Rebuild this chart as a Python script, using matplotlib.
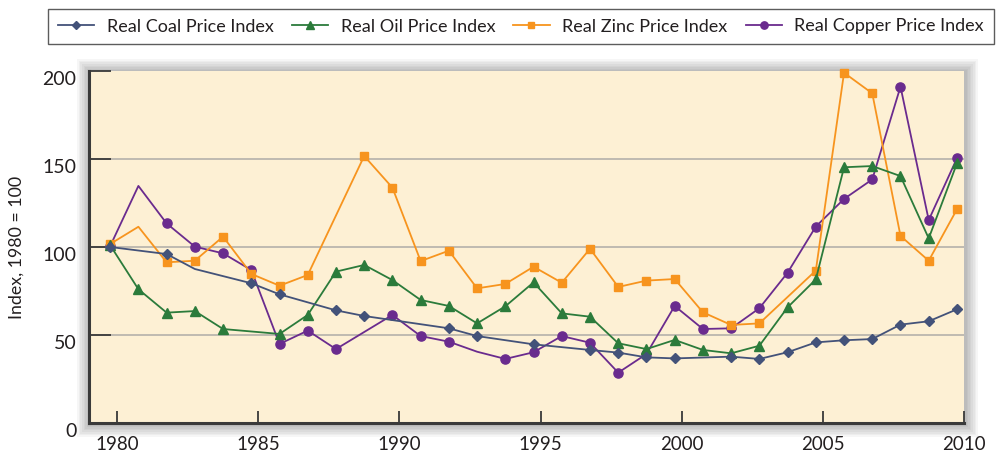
import matplotlib
matplotlib.use("Agg")
import matplotlib.pyplot as plt
import matplotlib.transforms as mtransforms
from matplotlib.lines import Line2D
from matplotlib.patches import Rectangle

# ---------------- data ----------------
coal_years = [1980, 1982, 1983, 1985, 1986, 1988, 1989, 1992, 1993, 1995, 1997, 1998, 1999,
              2000, 2002, 2003, 2004, 2005, 2006, 2007, 2008, 2009, 2010]
coal_values = [100, 96, 87.5, 79.4, 73.1, 64, 60.8, 53.8, 49.4, 44.7, 41.5, 40, 37.3,
               36.7, 37.7, 36.4, 40.2, 45.8, 47, 47.7, 55.9, 57.8, 64.6]
coal_unmarked = [1983]

oil_years = [1980, 1981, 1982, 1983, 1984, 1986, 1987, 1988, 1989, 1990, 1991, 1992, 1993,
             1994, 1995, 1996, 1997, 1998, 1999, 2000, 2001, 2002, 2003, 2004, 2005, 2006,
             2007, 2008, 2009, 2010]
oil_values = [101, 76, 62.7, 63.6, 53.4, 50.6, 61.4, 86, 89.8, 81.2, 69.9, 66.5, 56.6,
              66.3, 79.9, 62.3, 60.4, 45.3, 42, 47.2, 41.5, 39.6, 43.9, 65.7, 81.6, 145.3,
              146, 140.3, 104.9, 147.5]
oil_unmarked = []

zinc_years = [1980, 1981, 1982, 1983, 1984, 1985, 1986, 1987, 1989, 1990, 1991, 1992, 1993,
              1994, 1995, 1996, 1997, 1998, 1999, 2000, 2001, 2002, 2003, 2005, 2006, 2007,
              2008, 2009, 2010]
zinc_values = [101.7, 111.5, 91.3, 92.2, 105.9, 84.7, 78, 84.1, 151.7, 133.7, 92, 97.9, 76.5,
               79, 88.8, 79.7, 99, 77.3, 80.9, 81.8, 62.9, 55.7, 56.6, 86.6, 199, 187.3,
               106.3, 92.2, 121.4]
zinc_unmarked = [1981]

copper_years = [1980, 1981, 1982, 1983, 1984, 1985, 1986, 1987, 1988, 1990, 1991, 1992, 1993,
                1994, 1995, 1996, 1997, 1998, 1999, 2000, 2001, 2002, 2003, 2004, 2005, 2006,
                2007, 2008, 2009, 2010]
copper_values = [100.5, 134.7, 113.4, 100.2, 96.4, 86.9, 44.9, 52.5, 42, 61.4, 49.4, 46.2, 40.5,
                 36.4, 40.2, 49.4, 45.6, 28.6, 39.2, 66.5, 53.4, 53.8, 65.2, 85.4, 111.6, 127.3,
                 138.4, 191.1, 115.3, 150.4]
copper_unmarked = [1981, 1993]

series_labels = ["Real Coal Price Index", "Real Oil Price Index",
                 "Real Zinc Price Index", "Real Copper Price Index"]
x_tick_labels = ["1980", "1985", "1990", "1995", "2000", "2005", "2010"]
y_ticks = [0, 50, 100, 150, 200]
y_label = "Index, 1980 = 100"

# ---------------- style ----------------
FONT = "Lato"
plt.rcParams["font.family"] = [FONT, "DejaVu Sans"]

W, H = 1004, 458
fig = plt.figure(figsize=(W / 100, H / 100), dpi=100)
fig.patch.set_facecolor("white")

ax_l, ax_r, ax_t, ax_b = 89, 964, 71, 423
rect = [ax_l / W, 1 - ax_b / H, (ax_r - ax_l) / W, (ax_b - ax_t) / H]

# soft drop shadow around the plot area
for i in range(1, 9):
    pad = i * 1.6
    fig.patches.append(Rectangle(((ax_l - pad + 1) / W, 1 - (ax_b + pad + 1) / H),
                                 (ax_r - ax_l + 2 * pad) / W, (ax_b - ax_t + 2 * pad) / H,
                                 transform=fig.transFigure, facecolor="black",
                                 edgecolor="none", alpha=0.035, zorder=0))

ax = fig.add_axes(rect)
ax.set_facecolor("#fdf0d4")
ax.set_zorder(2)

styles = [
    dict(years=coal_years, vals=coal_values, un=coal_unmarked, color="#435279", marker="D", ms=5.2),
    dict(years=oil_years, vals=oil_values, un=oil_unmarked, color="#2b7b3b", marker="^", ms=7.0),
    dict(years=zinc_years, vals=zinc_values, un=zinc_unmarked, color="#f7941e", marker="s", ms=6.2),
    dict(years=copper_years, vals=copper_values, un=copper_unmarked, color="#6a2b8e", marker="o", ms=6.6),
]
order = [3, 2, 1, 0]  # draw copper first, coal on top
handles = [None] * 4
for k in order:
    s = styles[k]
    mk = [i for i, y in enumerate(s["years"]) if y not in s["un"]]
    ln, = ax.plot(s["years"], s["vals"], color=s["color"], lw=1.3, marker=s["marker"],
                  ms=s["ms"], markevery=mk, mec=s["color"], mfc=s["color"], zorder=3 + (3 - k),
                  clip_on=False)
    handles[k] = Line2D([], [], color=s["color"], lw=1.3, marker=s["marker"], ms=s["ms"] * 0.8,
                        mec=s["color"], mfc=s["color"])

ax.set_xlim(1979.25, 2010.25)
ax.set_ylim(0, 200)

ax.set_xticks([int(t) + 0.25 for t in x_tick_labels])
ax.set_xticklabels(x_tick_labels)
ax.set_yticks(y_ticks)
ax.set_yticklabels([str(v) for v in y_ticks])

for v in y_ticks[1:-1]:
    ax.axhline(v, color="#b4b1aa", lw=1.2, zorder=1)

for sp in ["top", "right"]:
    ax.spines[sp].set_visible(False)
for sp in ["left", "bottom"]:
    ax.spines[sp].set_color("#3a3a3a")
    ax.spines[sp].set_linewidth(2.2)
    ax.spines[sp].set_zorder(10)

ax.tick_params(axis="y", direction="in", length=16, width=1.3, color="#3a3a3a",
               labelsize=14, labelcolor="#231f20", pad=9)
ax.tick_params(axis="x", direction="in", length=9, width=1.3, color="#3a3a3a",
               labelsize=13.5, labelcolor="#231f20", pad=9)

offset = mtransforms.ScaledTranslation(0, -7 / 100, fig.dpi_scale_trans)
for lab in ax.get_yticklabels():
    lab.set_transform(lab.get_transform() + offset)

ax.set_ylabel(y_label, fontsize=12.8, color="#231f20")
ax.yaxis.set_label_coords((25 - ax_l) / (ax_r - ax_l), 0.5)

leg = fig.legend(handles, series_labels, loc="center", ncol=4, mode="expand",
                 bbox_to_anchor=(48 / W, 1 - 45 / H, 946 / W, 37 / H),
                 frameon=True, fancybox=False, edgecolor="#333333", fontsize=13,
                 handlelength=2.0, handletextpad=0.7, borderaxespad=0, borderpad=0.55)
leg.get_frame().set_linewidth(1.0)
for t in leg.get_texts():
    t.set_color("#231f20")

fig.savefig("out.png", dpi=100)
